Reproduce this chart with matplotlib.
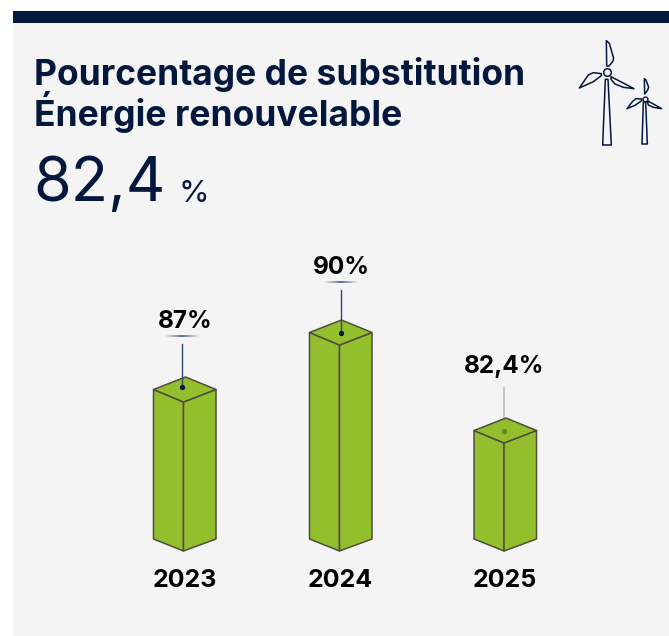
import numpy as np
import matplotlib
matplotlib.use("Agg")
import matplotlib.pyplot as plt
from matplotlib.collections import LineCollection
from matplotlib.patches import Polygon, Rectangle

NAVY = "#04173d"
GREEN = "#94bf2d"
EDGE = "#4d4d40"

years = ["2023", "2024", "2025"]
labels = ["87%", "90%", "82,4%"]
# heights as drawn in the picture (the bars are not to scale with the labels)
bar_heights = [149, 206, 108]
bar_centers = [183.5, 339.5, 504]

# wind turbine outlines
big_tower = [(136, 148), (144, 148), (154, 345), (128, 345)]
big_blades = [
    [(140, 108), (139, 32), (148, 40), (161, 85), (158, 95), (147, 108)],
    [(153, 140), (222, 176), (190, 172), (165, 162), (153, 148)],
    [(124, 131), (100, 128), (85, 135), (58, 174), (100, 155), (124, 137)],
]
small_tower = [(250, 216), (257, 216), (262, 342), (246, 342)]
small_blades = [
    [(253, 146), (254, 192), (262, 182), (266, 172), (258, 150)],
    [(262, 212), (305, 236), (280, 232), (265, 225)],
    [(245, 207), (228, 206), (218, 214), (201, 236), (225, 226), (245, 212)],
]

plt.rcParams["font.family"] = ["Inter", "DejaVu Sans"]

fig = plt.figure(figsize=(6.69, 6.36), dpi=100, facecolor="white")
ax = fig.add_axes([0, 0, 1, 1])
ax.set_xlim(0, 669)
ax.set_ylim(636, 0)
ax.axis("off")

ax.add_patch(Rectangle((13, 11), 656, 625, color="#f4f4f4", lw=0))
ax.add_patch(Rectangle((13, 11), 656, 12, color=NAVY, lw=0))

ax.text(33.5, 85, "Pourcentage de substitution", fontsize=25.5, fontweight="bold", color=NAVY, va="baseline")
ax.text(33.5, 126, "Énergie renouvelable", fontsize=25.5, fontweight="bold", color=NAVY, va="baseline")
ax.text(33, 201.5, "82,4", fontsize=44, color=NAVY, va="baseline")
ax.text(179, 201.5, "%", fontsize=22.5, color=NAVY, va="baseline")


def draw_bar(cx, height, i):
    bottom = 551
    half = 30
    front = bottom - height
    side_top = front - 12.5
    back = front - 25
    side_bottom = bottom - 12
    left = cx - half
    right = cx + half + 2.5
    ax.add_patch(Polygon([(left, side_top), (cx, front), (cx, bottom), (left, side_bottom)],
                         fc=GREEN, ec=EDGE, lw=1.1, joinstyle="round", zorder=3))
    ax.add_patch(Polygon([(cx, front), (right, side_top), (right, side_bottom), (cx, bottom)],
                         fc=GREEN, ec=EDGE, lw=1.1, joinstyle="round", zorder=3))
    ax.add_patch(Polygon([(left, side_top), (cx + 2, back), (right, side_top), (cx, front)],
                         fc=GREEN, ec=EDGE, lw=1.1, joinstyle="round", zorder=3))

    # leader line and dot, the last one is faded behind the bar top
    line_x = cx - 1.5 if i == 0 else cx + 1.5 if i == 1 else cx
    dot_y = front - [15.3, 12.3, 12][i]
    if i < 2:
        ax.plot([line_x, line_x], [dot_y, dot_y - 43], color="#34466b", lw=1.0, zorder=4)
        ax.plot(line_x, dot_y, "o", ms=2.8, color=NAVY, zorder=5)
        # short fading dash under the label
        xs = np.linspace(line_x - 18, line_x + 18, 37)
        segs = [[(xs[j], dot_y - 50.5), (xs[j + 1], dot_y - 50.5)] for j in range(36)]
        alpha = 1 - np.abs(np.linspace(-1, 1, 36))
        ax.add_collection(LineCollection(segs, colors=[(0.2, 0.27, 0.42, a) for a in alpha], lw=1.1, zorder=4))
    else:
        ax.plot([line_x, line_x], [dot_y, dot_y - 43], color="#b9bcc4", lw=1.2, zorder=2)
        ax.plot(line_x, dot_y, "o", ms=2.8, color="#5f8a2a", zorder=5)


for i, h in enumerate(bar_heights):
    draw_bar(bar_centers[i], h, i)
    label_x = [185.5, 341.5, 504][i]
    label_y = 551 - h - [74, 71, 70.5][i]
    ax.text(label_x, label_y, labels[i], fontsize=17.5, fontweight="bold", color="black", ha="center", va="baseline")
    ax.text(bar_centers[i] + 1, 587, years[i], fontsize=18, fontweight="bold", color="black", ha="center", va="baseline")


def icon(points):
    # icon coordinates are in a 3x crop starting at (560, 30)
    return [(560 + x / 3, 30 + y / 3) for x, y in points]


for shape in [big_tower, small_tower] + big_blades + small_blades:
    ax.add_patch(Polygon(icon(shape), fc="none", ec=NAVY, lw=1.1, joinstyle="round"))

ax.plot(606.7, 72.3, "o", ms=5.5, mfc="none", mec=NAVY, mew=1.1)
ax.plot(644.5, 98.7, "o", ms=3.5, mfc="none", mec=NAVY, mew=1.0)

fig.savefig("out.png", dpi=100, facecolor="white")
